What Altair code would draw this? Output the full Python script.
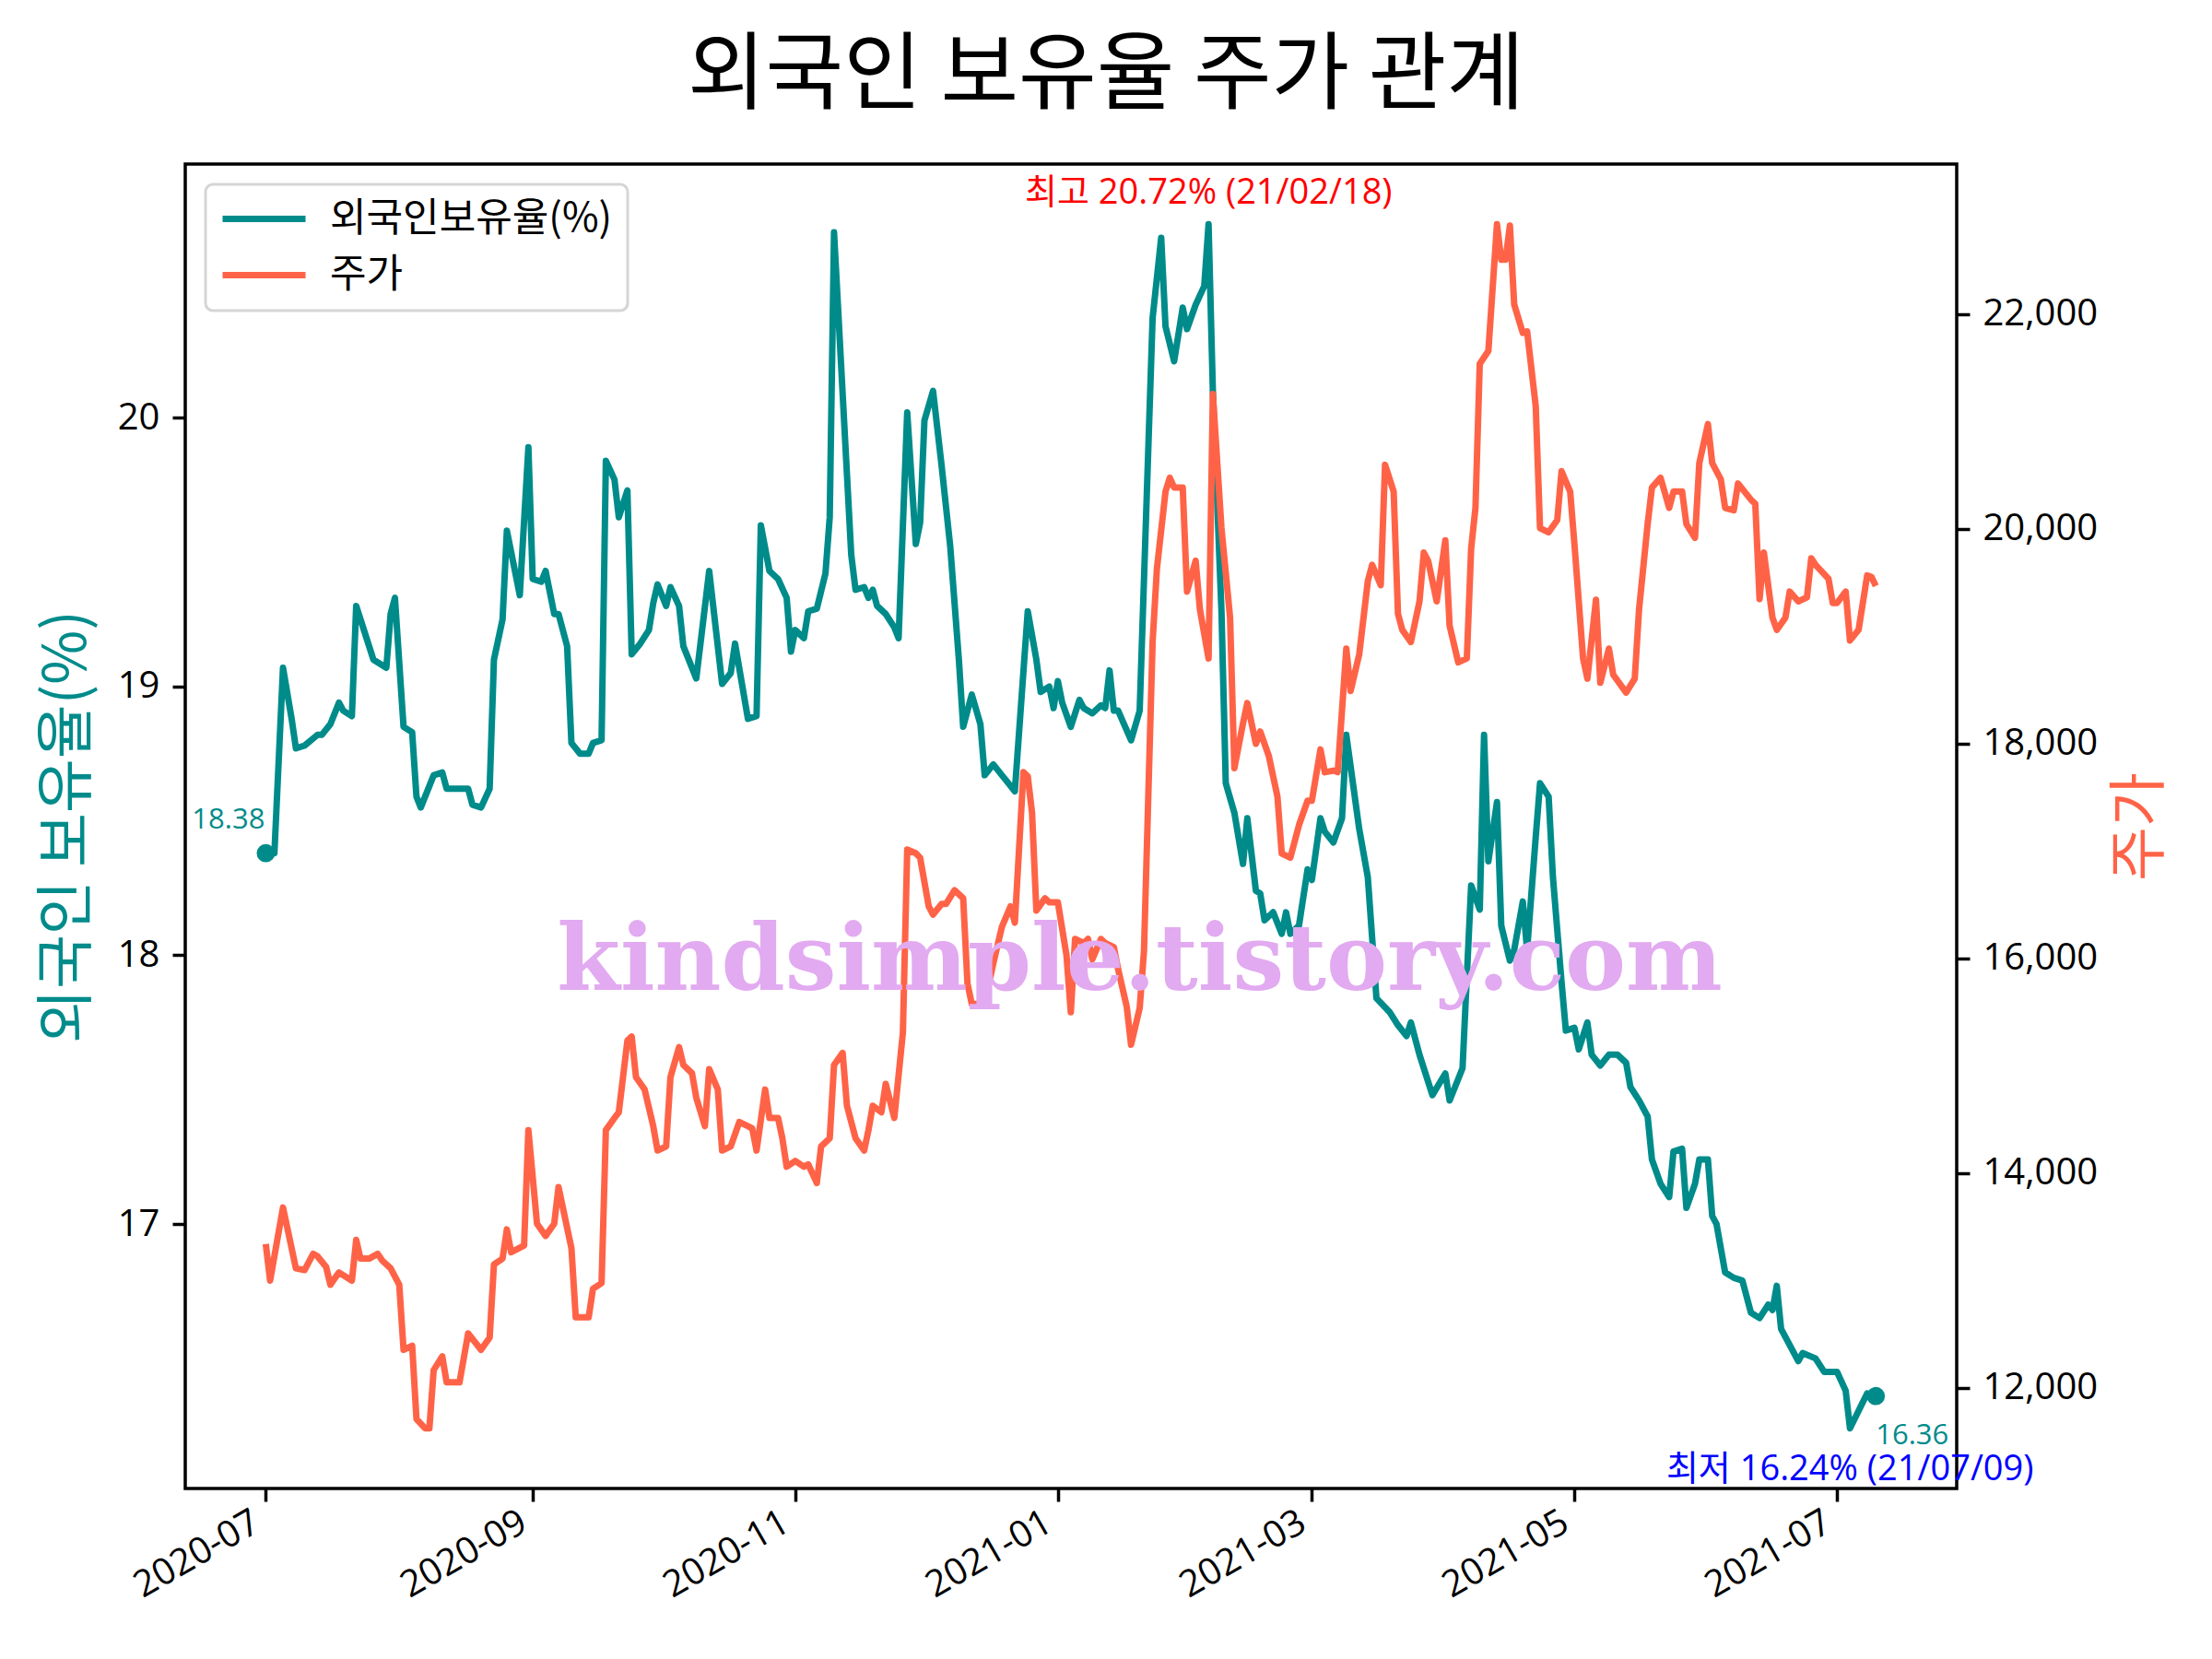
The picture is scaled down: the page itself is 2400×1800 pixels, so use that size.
import altair as alt
import pandas as pd

# ---------------- values ----------------
ratio_points = [
    ("2020-07-01", 18.38), ("2020-07-03", 18.38), ("2020-07-05", 19.07), ("2020-07-07", 18.88),
    ("2020-07-08", 18.77), ("2020-07-10", 18.78), ("2020-07-13", 18.82), ("2020-07-14", 18.82),
    ("2020-07-16", 18.86), ("2020-07-18", 18.94), ("2020-07-19", 18.91), ("2020-07-21", 18.89),
    ("2020-07-22", 19.30), ("2020-07-25", 19.15), ("2020-07-26", 19.10), ("2020-07-29", 19.07),
    ("2020-07-30", 19.27), ("2020-07-31", 19.33), ("2020-08-02", 18.85), ("2020-08-04", 18.83),
    ("2020-08-05", 18.59), ("2020-08-06", 18.55), ("2020-08-09", 18.67), ("2020-08-11", 18.68),
    ("2020-08-12", 18.62), ("2020-08-17", 18.62), ("2020-08-18", 18.56), ("2020-08-20", 18.55),
    ("2020-08-22", 18.62), ("2020-08-23", 19.10), ("2020-08-25", 19.25), ("2020-08-26", 19.58),
    ("2020-08-28", 19.42), ("2020-08-29", 19.34), ("2020-08-31", 19.89), ("2020-09-01", 19.40),
    ("2020-09-03", 19.39), ("2020-09-04", 19.43), ("2020-09-06", 19.27), ("2020-09-07", 19.27),
    ("2020-09-09", 19.15), ("2020-09-10", 18.79), ("2020-09-12", 18.75), ("2020-09-14", 18.75),
    ("2020-09-15", 18.79), ("2020-09-17", 18.80), ("2020-09-18", 19.84), ("2020-09-20", 19.77),
    ("2020-09-21", 19.63), ("2020-09-23", 19.73), ("2020-09-24", 19.12), ("2020-09-26", 19.16),
    ("2020-09-28", 19.21), ("2020-09-29", 19.31), ("2020-09-30", 19.38), ("2020-10-02", 19.30),
    ("2020-10-03", 19.37), ("2020-10-05", 19.30), ("2020-10-06", 19.15), ("2020-10-09", 19.03),
    ("2020-10-12", 19.43), ("2020-10-15", 19.01), ("2020-10-17", 19.05), ("2020-10-18", 19.16),
    ("2020-10-21", 18.88), ("2020-10-23", 18.89), ("2020-10-24", 19.60), ("2020-10-26", 19.43),
    ("2020-10-28", 19.40), ("2020-10-30", 19.33), ("2020-10-31", 19.13), ("2020-11-01", 19.21),
    ("2020-11-03", 19.18), ("2020-11-04", 19.28), ("2020-11-06", 19.29), ("2020-11-08", 19.42),
    ("2020-11-09", 19.63), ("2020-11-10", 20.69), ("2020-11-14", 19.49), ("2020-11-15", 19.36),
    ("2020-11-17", 19.37), ("2020-11-18", 19.33), ("2020-11-19", 19.36), ("2020-11-20", 19.30),
    ("2020-11-22", 19.27), ("2020-11-24", 19.22), ("2020-11-25", 19.18), ("2020-11-27", 20.02),
    ("2020-11-29", 19.53), ("2020-11-30", 19.61), ("2020-12-01", 19.99), ("2020-12-03", 20.10),
    ("2020-12-05", 19.82), ("2020-12-07", 19.52), ("2020-12-09", 19.10), ("2020-12-10", 18.85),
    ("2020-12-12", 18.97), ("2020-12-14", 18.86), ("2020-12-15", 18.67), ("2020-12-17", 18.71),
    ("2020-12-19", 18.67), ("2020-12-20", 18.65), ("2020-12-22", 18.61), ("2020-12-25", 19.28),
    ("2020-12-27", 19.10), ("2020-12-28", 18.98), ("2020-12-30", 19.00), ("2020-12-31", 18.92),
    ("2021-01-01", 19.02), ("2021-01-02", 18.94), ("2021-01-04", 18.85), ("2021-01-06", 18.95),
    ("2021-01-07", 18.92), ("2021-01-09", 18.90), ("2021-01-11", 18.93), ("2021-01-12", 18.92),
    ("2021-01-13", 19.06), ("2021-01-14", 18.91), ("2021-01-15", 18.91), ("2021-01-18", 18.80),
    ("2021-01-20", 18.91), ("2021-01-23", 20.37), ("2021-01-25", 20.67), ("2021-01-26", 20.34),
    ("2021-01-28", 20.21), ("2021-01-30", 20.41), ("2021-01-31", 20.33), ("2021-02-02", 20.42),
    ("2021-02-04", 20.49), ("2021-02-05", 20.72), ("2021-02-06", 20.10), ("2021-02-08", 19.28),
    ("2021-02-09", 18.64), ("2021-02-11", 18.53), ("2021-02-13", 18.34), ("2021-02-14", 18.51),
    ("2021-02-16", 18.24), ("2021-02-17", 18.23), ("2021-02-18", 18.13), ("2021-02-20", 18.16),
    ("2021-02-22", 18.08), ("2021-02-23", 18.16), ("2021-02-24", 18.08), ("2021-02-26", 18.11),
    ("2021-02-28", 18.32), ("2021-03-01", 18.28), ("2021-03-03", 18.51), ("2021-03-04", 18.46),
    ("2021-03-06", 18.42), ("2021-03-08", 18.51), ("2021-03-09", 18.82), ("2021-03-12", 18.47),
    ("2021-03-14", 18.29), ("2021-03-16", 17.84), ("2021-03-19", 17.79), ("2021-03-21", 17.74),
    ("2021-03-23", 17.70), ("2021-03-24", 17.75), ("2021-03-26", 17.63), ("2021-03-29", 17.48),
    ("2021-04-01", 17.56), ("2021-04-02", 17.46), ("2021-04-05", 17.58), ("2021-04-07", 18.26),
    ("2021-04-09", 18.17), ("2021-04-10", 18.82), ("2021-04-11", 18.35), ("2021-04-13", 18.57),
    ("2021-04-14", 18.11), ("2021-04-16", 17.98), ("2021-04-17", 18.02), ("2021-04-19", 18.20),
    ("2021-04-20", 18.02), ("2021-04-22", 18.44), ("2021-04-23", 18.64), ("2021-04-25", 18.59),
    ("2021-04-26", 18.29), ("2021-04-28", 17.90), ("2021-04-29", 17.72), ("2021-05-01", 17.73),
    ("2021-05-02", 17.65), ("2021-05-04", 17.75), ("2021-05-05", 17.63), ("2021-05-07", 17.59),
    ("2021-05-09", 17.63), ("2021-05-11", 17.63), ("2021-05-13", 17.60), ("2021-05-14", 17.51),
    ("2021-05-16", 17.46), ("2021-05-18", 17.40), ("2021-05-19", 17.24), ("2021-05-21", 17.15),
    ("2021-05-23", 17.10), ("2021-05-24", 17.27), ("2021-05-26", 17.28), ("2021-05-27", 17.06),
    ("2021-05-29", 17.15), ("2021-05-30", 17.24), ("2021-06-01", 17.24), ("2021-06-02", 17.03),
    ("2021-06-03", 17.00), ("2021-06-05", 16.82), ("2021-06-07", 16.80), ("2021-06-09", 16.79),
    ("2021-06-11", 16.67), ("2021-06-13", 16.65), ("2021-06-15", 16.70), ("2021-06-16", 16.68),
    ("2021-06-17", 16.77), ("2021-06-18", 16.61), ("2021-06-22", 16.49), ("2021-06-23", 16.52),
    ("2021-06-26", 16.50), ("2021-06-28", 16.45), ("2021-07-01", 16.45), ("2021-07-03", 16.38),
    ("2021-07-04", 16.24), ("2021-07-08", 16.37), ("2021-07-10", 16.36),
]

price_points = [
    ("2020-07-01", 13341), ("2020-07-02", 13000), ("2020-07-05", 13681), ("2020-07-08", 13114),
    ("2020-07-10", 13098), ("2020-07-12", 13250), ("2020-07-13", 13227), ("2020-07-15", 13129),
    ("2020-07-16", 12962), ("2020-07-18", 13076), ("2020-07-21", 13000), ("2020-07-22", 13379),
    ("2020-07-23", 13205), ("2020-07-25", 13205), ("2020-07-27", 13250), ("2020-07-28", 13189),
    ("2020-07-30", 13114), ("2020-08-01", 12962), ("2020-08-02", 12356), ("2020-08-04", 12394),
    ("2020-08-05", 11712), ("2020-08-07", 11625), ("2020-08-08", 11625), ("2020-08-09", 12167),
    ("2020-08-11", 12295), ("2020-08-12", 12053), ("2020-08-15", 12053), ("2020-08-17", 12508),
    ("2020-08-20", 12356), ("2020-08-22", 12470), ("2020-08-23", 13151), ("2020-08-25", 13205),
    ("2020-08-26", 13477), ("2020-08-27", 13265), ("2020-08-30", 13326), ("2020-08-31", 14402),
    ("2020-09-02", 13530), ("2020-09-04", 13417), ("2020-09-06", 13530), ("2020-09-07", 13871),
    ("2020-09-10", 13303), ("2020-09-11", 12659), ("2020-09-14", 12659), ("2020-09-15", 12924),
    ("2020-09-17", 12977), ("2020-09-18", 14402), ("2020-09-20", 14515), ("2020-09-21", 14568),
    ("2020-09-23", 15235), ("2020-09-24", 15273), ("2020-09-25", 14894), ("2020-09-27", 14780),
    ("2020-09-29", 14439), ("2020-09-30", 14212), ("2020-10-02", 14250), ("2020-10-03", 14894),
    ("2020-10-05", 15174), ("2020-10-06", 15008), ("2020-10-08", 14932), ("2020-10-09", 14704),
    ("2020-10-11", 14439), ("2020-10-12", 14970), ("2020-10-14", 14780), ("2020-10-15", 14212),
    ("2020-10-17", 14250), ("2020-10-19", 14477), ("2020-10-21", 14439), ("2020-10-22", 14417),
    ("2020-10-23", 14212), ("2020-10-25", 14780), ("2020-10-26", 14515), ("2020-10-28", 14515),
    ("2020-10-29", 14326), ("2020-10-30", 14061), ("2020-11-01", 14114), ("2020-11-03", 14061),
    ("2020-11-04", 14083), ("2020-11-06", 13909), ("2020-11-07", 14250), ("2020-11-09", 14326),
    ("2020-11-10", 15008), ("2020-11-12", 15121), ("2020-11-13", 14629), ("2020-11-15", 14326),
    ("2020-11-17", 14212), ("2020-11-18", 14402), ("2020-11-19", 14629), ("2020-11-21", 14568),
    ("2020-11-22", 14833), ("2020-11-24", 14515), ("2020-11-26", 15311), ("2020-11-27", 17015),
    ("2020-11-29", 16980), ("2020-11-30", 16939), ("2020-12-02", 16485), ("2020-12-03", 16409),
    ("2020-12-05", 16508), ("2020-12-06", 16508), ("2020-12-08", 16636), ("2020-12-10", 16561),
    ("2020-12-11", 15765), ("2020-12-12", 15576), ("2020-12-15", 15576), ("2020-12-17", 15955),
    ("2020-12-19", 16295), ("2020-12-21", 16485), ("2020-12-22", 16333), ("2020-12-24", 17735),
    ("2020-12-25", 17697), ("2020-12-26", 17356), ("2020-12-27", 16447), ("2020-12-29", 16561),
    ("2020-12-30", 16523), ("2021-01-01", 16523), ("2021-01-03", 16030), ("2021-01-04", 15500),
    ("2021-01-05", 16182), ("2021-01-07", 16144), ("2021-01-08", 16182), ("2021-01-09", 15993),
    ("2021-01-11", 16182), ("2021-01-12", 16144), ("2021-01-14", 16106), ("2021-01-15", 15900),
    ("2021-01-17", 15550), ("2021-01-18", 15197), ("2021-01-20", 15538), ("2021-01-21", 16068),
    ("2021-01-23", 18947), ("2021-01-24", 19629), ("2021-01-26", 20349), ("2021-01-27", 20477),
    ("2021-01-28", 20387), ("2021-01-30", 20387), ("2021-01-31", 19417), ("2021-02-02", 19705),
    ("2021-02-03", 19250), ("2021-02-05", 18795), ("2021-02-06", 21258), ("2021-02-08", 20008),
    ("2021-02-10", 19174), ("2021-02-11", 17773), ("2021-02-13", 18189), ("2021-02-14", 18379),
    ("2021-02-16", 18000), ("2021-02-17", 18114), ("2021-02-19", 17886), ("2021-02-21", 17508),
    ("2021-02-22", 16977), ("2021-02-24", 16939), ("2021-02-26", 17242), ("2021-02-28", 17470),
    ("2021-03-01", 17470), ("2021-03-03", 17947), ("2021-03-04", 17735), ("2021-03-06", 17750),
    ("2021-03-07", 17735), ("2021-03-09", 18886), ("2021-03-10", 18492), ("2021-03-12", 18833),
    ("2021-03-14", 19515), ("2021-03-15", 19667), ("2021-03-17", 19477), ("2021-03-18", 20599),
    ("2021-03-20", 20349), ("2021-03-21", 19212), ("2021-03-22", 19061), ("2021-03-24", 18947),
    ("2021-03-26", 19326), ("2021-03-27", 19780), ("2021-03-28", 19705), ("2021-03-30", 19326),
    ("2021-04-01", 19894), ("2021-04-02", 19098), ("2021-04-04", 18758), ("2021-04-06", 18795),
    ("2021-04-07", 19818), ("2021-04-08", 20197), ("2021-04-09", 21538), ("2021-04-11", 21659),
    ("2021-04-13", 22838), ("2021-04-14", 22508), ("2021-04-15", 22508), ("2021-04-16", 22826),
    ("2021-04-17", 22091), ("2021-04-19", 21826), ("2021-04-20", 21841), ("2021-04-22", 21144),
    ("2021-04-23", 20008), ("2021-04-25", 19970), ("2021-04-27", 20083), ("2021-04-28", 20538),
    ("2021-04-30", 20349), ("2021-05-01", 19856), ("2021-05-03", 18795), ("2021-05-04", 18606),
    ("2021-05-06", 19341), ("2021-05-07", 18568), ("2021-05-09", 18886), ("2021-05-10", 18644),
    ("2021-05-13", 18477), ("2021-05-15", 18606), ("2021-05-16", 19250), ("2021-05-18", 20046),
    ("2021-05-19", 20387), ("2021-05-21", 20477), ("2021-05-23", 20197), ("2021-05-24", 20349),
    ("2021-05-26", 20349), ("2021-05-27", 20046), ("2021-05-29", 19917), ("2021-05-30", 20614),
    ("2021-06-01", 20977), ("2021-06-02", 20614), ("2021-06-04", 20462), ("2021-06-05", 20197),
    ("2021-06-07", 20174), ("2021-06-08", 20424), ("2021-06-11", 20273), ("2021-06-12", 20235),
    ("2021-06-13", 19348), ("2021-06-14", 19780), ("2021-06-16", 19174), ("2021-06-17", 19061),
    ("2021-06-19", 19174), ("2021-06-20", 19417), ("2021-06-22", 19326), ("2021-06-24", 19364),
    ("2021-06-25", 19727), ("2021-06-26", 19667), ("2021-06-29", 19538), ("2021-06-30", 19311),
    ("2021-07-01", 19311), ("2021-07-03", 19417), ("2021-07-04", 18962), ("2021-07-06", 19061),
    ("2021-07-08", 19568), ("2021-07-09", 19553), ("2021-07-10", 19470),
]

x_ticks = ["2020-07-01", "2020-09-01", "2020-11-01", "2021-01-01",
           "2021-03-01", "2021-05-01", "2021-07-01"]
x_domain = ["2020-06-12T07:00:00", "2021-07-28T19:00:00"]
ratio_ticks = [17, 18, 19, 20]
ratio_domain = [16.016, 20.944]
price_ticks = [12000, 14000, 16000, 18000, 20000, 22000]
price_domain = [11064, 23399]

series_names = ["외국인보유율(%)", "주가"]
chart_title = "외국인 보유율 주가 관계"
ratio_title = "외국인 보유율(%)"
price_title = "주가"
max_date_text = "21/02/18"
min_date_text = "21/07/09"
watermark_text = ["kindsimple.tistory.com"]
watermark_date = ["2021-01-20"]
watermark_price = [15708]

# ---------------- styling ----------------
TEAL = "#008B8B"
ORANGE = "#FF6347"
NUM_FONT = "Open Sans, Noto Sans CJK KR"
KR_FONT = "Noto Sans CJK KR"


def ts(d):
    return d + "T00:00:00"


ratio_df = pd.DataFrame({
    "date": [ts(d) for d, _ in ratio_points],
    "v": [v for _, v in ratio_points],
    "series": series_names[0],
})
price_df = pd.DataFrame({
    "date": [ts(d) for d, _ in price_points],
    "p": [p for _, p in price_points],
    "series": series_names[1],
})

imax = ratio_df["v"].idxmax()
imin = ratio_df["v"].idxmin()
max_df = ratio_df.loc[[imax]].assign(
    label=f"최고 {ratio_df.loc[imax, 'v']:.2f}% ({max_date_text})")
min_df = ratio_df.loc[[imin]].assign(
    label=f"최저 {ratio_df.loc[imin, 'v']:.2f}% ({min_date_text})")
first_df = ratio_df.iloc[[0]].assign(label=lambda d: d["v"].map(lambda x: f"{x:.2f}"))
last_df = ratio_df.iloc[[-1]].assign(label=lambda d: d["v"].map(lambda x: f"{x:.2f}"))
ends_df = ratio_df.iloc[[0, -1]]
wm_df = pd.DataFrame({"date": [ts(d) for d in watermark_date],
                      "p": watermark_price, "label": watermark_text})

tick_dt = [alt.DateTime(year=int(s[:4]), month=int(s[5:7]), date=int(s[8:10])) for s in x_ticks]

x_enc = alt.X(
    "date:T",
    scale=alt.Scale(domain=x_domain, nice=False),
    axis=alt.Axis(values=tick_dt, format="%Y-%m", title=None, labelAngle=330,
                  labelAlign="right", labelBaseline="top", labelPadding=2,
                  labelOffset=-20),
)
y_ratio = alt.Y(
    "v:Q",
    scale=alt.Scale(domain=ratio_domain, nice=False, zero=False),
    axis=alt.Axis(values=ratio_ticks, title=ratio_title, titleColor=TEAL,
                  titleFont=KR_FONT, titlePadding=22,
                  labelExpr="format(datum.value, 'd')"),
)
y_price = alt.Y(
    "p:Q",
    scale=alt.Scale(domain=price_domain, nice=False, zero=False),
    axis=alt.Axis(values=price_ticks, orient="right", title=price_title,
                  labelExpr="format(datum.value, ',')",
                  titleColor=ORANGE, titleFont=KR_FONT, titleAngle=270,
                  titleBaseline="top", titlePadding=15),
)
color_enc = alt.Color(
    "series:N",
    scale=alt.Scale(domain=series_names, range=[TEAL, ORANGE]),
    legend=alt.Legend(title=None),
)

ratio_line = alt.Chart(ratio_df).mark_line(strokeWidth=7, strokeJoin="round").encode(
    x=x_enc, y=y_ratio, color=color_enc)
ratio_ends = alt.Chart(ends_df).mark_circle(size=390, opacity=1, color=TEAL).encode(
    x=x_enc, y=y_ratio)
first_txt = alt.Chart(first_df).mark_text(
    align="right", baseline="alphabetic", dx=-1, dy=-27, fontSize=31,
    font=NUM_FONT, color=TEAL).encode(x=x_enc, y=y_ratio, text="label:N")
last_txt = alt.Chart(last_df).mark_text(
    align="left", baseline="alphabetic", dx=0, dy=52, fontSize=31,
    font=NUM_FONT, color=TEAL).encode(x=x_enc, y=y_ratio, text="label:N")
max_txt = alt.Chart(max_df).mark_text(
    align="center", baseline="alphabetic", dx=0, dy=-22, fontSize=38,
    font=NUM_FONT, color="#FF0000").encode(x=x_enc, y=y_ratio, text="label:N")
min_txt = alt.Chart(min_df).mark_text(
    align="center", baseline="alphabetic", dx=0, dy=56, fontSize=38,
    font=NUM_FONT, color="#0000FF").encode(x=x_enc, y=y_ratio, text="label:N")

price_line = alt.Chart(price_df).mark_line(strokeWidth=7, strokeJoin="round").encode(
    x=x_enc, y=y_price, color=color_enc)
wm_txt = alt.Chart(wm_df).mark_text(
    align="center", baseline="alphabetic", fontSize=99, font="DejaVu Serif",
    fontWeight="bold", color="#E2AAF0").encode(x=x_enc, y=y_price, text="label:N")

left_layer = alt.layer(ratio_line, ratio_ends, first_txt, last_txt, max_txt, min_txt)
right_layer = alt.layer(price_line, wm_txt)

chart = (
    alt.layer(left_layer, right_layer)
    .resolve_scale(y="independent")
    .properties(
        width=1922,
        height=1437,
        autosize=alt.AutoSizeParams(type="none"),
        padding={"left": 193, "top": 170, "right": 269, "bottom": 165},
        title=alt.TitleParams(text=chart_title, font=KR_FONT, fontSize=92,
                              fontWeight="normal", color="black", anchor="middle",
                              baseline="alphabetic", dx=38, offset=-25),
    )
    .configure_view(stroke="black", strokeWidth=3.5)
    .configure_axis(domain=False, grid=False, ticks=True, tickColor="black",
                    tickWidth=3.5, tickSize=14, labelFont=NUM_FONT, labelFontSize=40,
                    labelColor="black", labelPadding=14, titleFontSize=64,
                    titleFontWeight="normal")
    .configure_legend(orient="top-left", offset=22, padding=16, fillColor="white",
                      strokeColor="#D5D5D5", strokeWidth=3, cornerRadius=8,
                      labelFont=KR_FONT, labelFontSize=43, labelColor="black",
                      labelLimit=800, rowPadding=17, symbolType="M-4.5,0H4.5",
                      symbolSize=400, symbolStrokeWidth=7, symbolOffset=26,
                      labelOffset=50)
)

chart.save("out.html", embed_options={"renderer": "svg", "actions": False})
